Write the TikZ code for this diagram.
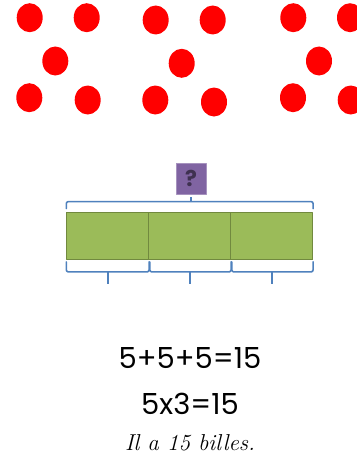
\documentclass[tikz,border=0pt]{standalone}
\usepackage{fontspec}
\newfontfamily\eqfont{Poppins}
\usetikzlibrary{calc}

\definecolor{billered}{HTML}{FF0000}
\definecolor{partgreen}{HTML}{9BBB59}
\definecolor{partborder}{HTML}{71893F}
\definecolor{qpurple}{HTML}{8064A2}
\definecolor{qdark}{HTML}{3F3151}
\definecolor{braceblue}{HTML}{4F81BD}

\tikzset{
  bille/.style={fill=billered,draw=none},
  partbox/.style={draw=partborder,line width=0.8pt,fill=partgreen,minimum width=82pt,minimum height=47pt,inner sep=0pt},
  qbox/.style={draw=qpurple!70!white,fill=qpurple,minimum width=30pt,minimum height=31pt,inner sep=0pt,text=qdark,font=\eqfont\bfseries\fontsize{22}{22}\selectfont},
  bracket/.style={draw=braceblue,line width=1.6pt,rounded corners=2pt},
  bracktip/.style={draw=braceblue,line width=2pt,line cap=butt},
  eqtext/.style={font=\eqfont\fontsize{29}{34}\selectfont}
}

\begin{document}
\begin{tikzpicture}[line cap=round,line join=round,x=1pt,y=-1pt]
\useasboundingbox (0,0) rectangle (356,460);

% billes
\fill[bille] (29.7,17.7) ellipse (13 and 14.5);
\fill[bille] (86.7,17.7) ellipse (13 and 14.5);
\fill[bille] (55.3,61) ellipse (13 and 14.5);
\fill[bille] (29.3,97.7) ellipse (13 and 14.5);
\fill[bille] (87.7,100) ellipse (13 and 14.5);

\fill[bille] (155.7,20) ellipse (13 and 14.5);
\fill[bille] (212.7,20) ellipse (13 and 14.5);
\fill[bille] (181.7,63.3) ellipse (13 and 14.5);
\fill[bille] (155.3,100) ellipse (13 and 14.5);
\fill[bille] (214,102) ellipse (13 and 14.5);

\fill[bille] (293.3,17.7) ellipse (13 and 14.5);
\fill[bille] (350,17.7) ellipse (13 and 14.5);
\fill[bille] (319,61) ellipse (13 and 14.5);
\fill[bille] (293,97.7) ellipse (13 and 14.5);
\fill[bille] (350.7,100) ellipse (13 and 14.5);

% barre
\node[partbox] (part1) at (107.7,236) {};
\node[partbox] (part2) at (189.7,236) {};
\node[partbox] (part3) at (271.7,236) {};
\node[qbox] (quest) at (191,178.5) {?};

% accolade du haut
\draw[bracket] ($(part1.north west)+(0,-3.5)$) -- ($(part1.north west)+(0,-10.5)$)
  -- ($(part3.north east)+(0,-10.5)$) -- ($(part3.north east)+(0,-3.5)$);
\draw[bracktip] ($(quest.south)+(0,8)$) -- ($(quest.south)+(0,3)$);

% accolades du bas
\draw[bracket] ($(part1.south west)+(0,2)$) -- ($(part1.south west)+(0,12)$) -- ($(part1.south east)+(0,12)$) -- ($(part1.south east)+(0,2)$);
\draw[bracktip] ($(part1.south)+(0,12)$) -- ($(part1.south)+(0,24)$);
\draw[bracket] ($(part2.south west)+(1.5,2)$) -- ($(part2.south west)+(1.5,12)$) -- ($(part2.south east)+(0,12)$) -- ($(part2.south east)+(0,2)$);
\draw[bracktip] ($(part2.south)+(0,12)$) -- ($(part2.south)+(0,24)$);
\draw[bracket] ($(part3.south west)+(1.5,2)$) -- ($(part3.south west)+(1.5,12)$) -- ($(part3.south east)+(0,12)$) -- ($(part3.south east)+(0,2)$);
\draw[bracktip] ($(part3.south)+(0,12)$) -- ($(part3.south)+(0,24)$);

% calculs
\node[eqtext] (somme) at (190,358) {5+5+5=15};
\node[eqtext] (produit) at (190,404) {5x3=15};
\node[font=\itshape\fontsize{23}{28}\selectfont] (reponse) at (190,443) {Il a 15 billes.};

\end{tikzpicture}
\end{document}
